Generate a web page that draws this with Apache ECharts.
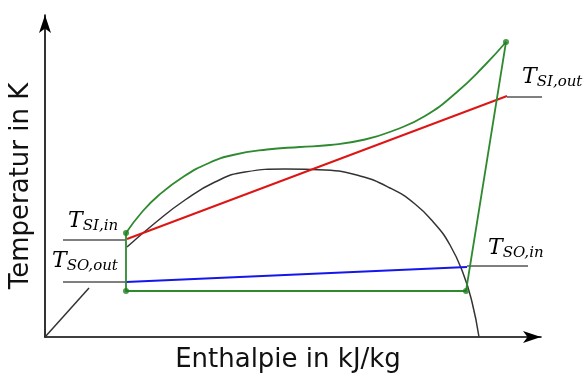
<!DOCTYPE html>
<html><head><meta charset="utf-8">
<script src="https://cdn.jsdelivr.net/npm/echarts@6/dist/echarts.min.js"></script>
<style>html,body{margin:0;padding:0;background:#fff}#c{width:585px;height:376px}</style>
</head><body><div id="c"></div>
<script>
// ---- data (arbitrary units: enthalpy h, temperature T) ----
const xAxisTitle = 'Enthalpie in kJ/kg';
const yAxisTitle = 'Temperatur in K';
const axisMaxH = 496;
const axisMaxT = 322;
// saturation dome (liquid line start, hidden part, then dome)
const domeLiquidStart = [[0,0],[44,49]];
const dome = [[82,90],[110,114],[140,137],[170,155],[200,165],[240,168],[280,167],[315,161],[345,149],[370,133],[390,113],[405,92],[418,64],[427,35],[434,0]];
// cycle corner states (1..4)
const cycleCorners = [[81,104],[81,46],[421,46],[461,295]];
// curve from state 1 (top left) to state 4 (top right)
const cycleCurve = [[81,104],[97,125],[114,142],[138,160],[164,174],[188,182],[222,187.5],[255,190],[285,192],[320,197.5],[350,207],[380,221],[412,245],[440,272],[461,295]];
// secondary fluid lines
const sinkLine = [[82,98],[462,241]];
const sourceLine = [[81,55],[422,70]];
// label reference lines
const labelSubs = ['SI,in','SO,out','SI,out','SO,in'];
const labelLines = [
  [[18,97],[81,97]],
  [[18,55],[81,55]],
  [[462,240],[527,240]],
  [[422,71],[483,71]]
];
// ---- chart ----
const GREEN = '#2f8a2f', RED = '#dd1515', BLUE = '#1515ee', DARK = '#333333';
const chart = echarts.init(document.getElementById('c'), null, {renderer:'canvas'});
const series = [
  {type:'line', data:domeLiquidStart, showSymbol:false, lineStyle:{color:DARK,width:1.5}, silent:true, z:2},
  {type:'line', data:dome, smooth:0.5, showSymbol:false, lineStyle:{color:DARK,width:1.5}, silent:true, z:2},
  {type:'line', data:sinkLine, showSymbol:false, lineStyle:{color:RED,width:2}, silent:true, z:3},
  {type:'line', data:sourceLine, showSymbol:false, lineStyle:{color:BLUE,width:2}, silent:true, z:3},
  {type:'line', data:cycleCorners, showSymbol:false, lineStyle:{color:GREEN,width:1.8}, silent:true, z:4},
  {type:'line', data:cycleCurve, smooth:0.5, showSymbol:false, lineStyle:{color:GREEN,width:1.8}, silent:true, z:4},
  {type:'scatter', data:cycleCorners, symbolSize:6, itemStyle:{color:'#1f801f'}, silent:true, z:5}
];
labelLines.forEach(function(d){
  series.push({type:'line', data:d, showSymbol:false, lineStyle:{color:'#000',width:1}, silent:true, z:1});
});
chart.setOption({
  animation:false,
  backgroundColor:'#fff',
  grid:{left:45, top:15, width:496, height:322, containLabel:false, outerBoundsMode:'none'},
  xAxis:{type:'value', min:0, max:axisMaxH, name:xAxisTitle, nameLocation:'middle', nameGap:10,
    nameTextStyle:{fontFamily:'DejaVu Sans', fontSize:26, color:'#111', verticalAlign:'top', padding:[0,10,0,0]},
    axisLine:{show:true, lineStyle:{color:'#000', width:1.6}, symbol:['none','arrow'], symbolSize:[9,18]},
    axisTick:{show:false}, axisLabel:{show:false}, splitLine:{show:false}},
  yAxis:{type:'value', min:0, max:axisMaxT, name:yAxisTitle, nameLocation:'middle', nameGap:11, nameRotate:90,
    nameTextStyle:{fontFamily:'DejaVu Sans', fontSize:26, color:'#111', padding:[0,20,0,0]},
    axisLine:{show:true, lineStyle:{color:'#000', width:1.6}, symbol:['none','arrow'], symbolSize:[9,18]},
    axisTick:{show:false}, axisLabel:{show:false}, splitLine:{show:false}},
  series:series
});
// labels placed relative to the left end of each reference line
const labelOffsets = [[5,-32],[-11,-34],[15,-33],[21,-31]];
const graphics = labelSubs.map(function(sub, i){
  const p = chart.convertToPixel({gridIndex:0}, labelLines[i][0]);
  return {type:'text', x:p[0]+labelOffsets[i][0], y:p[1]+labelOffsets[i][1], z:10,
    style:{text:'{T|T}{s|'+sub+'}', fill:'#000', align:'left', verticalAlign:'top',
      rich:{T:{fontFamily:'DejaVu Serif', fontStyle:'italic', fontSize:22, lineHeight:26, fill:'#000'},
            s:{fontFamily:'DejaVu Serif', fontStyle:'italic', fontSize:15, lineHeight:15, verticalAlign:'bottom', fill:'#000'}}}};
});
chart.setOption({graphic:graphics});
</script></body></html>
